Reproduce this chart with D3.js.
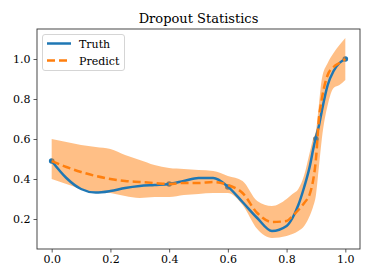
<!DOCTYPE html>
<html>
<head>
<meta charset="utf-8">
<script src="https://cdn.jsdelivr.net/npm/d3@7"></script>
<style>
  body { margin: 0; background: #fff; }
  text { font-family: "DejaVu Serif", serif; fill: #000; }
</style>
</head>
<body>
<div id="chart"></div>
<script>
// values
var xs      = [0, 0.05, 0.1, 0.15, 0.2, 0.25, 0.3, 0.35, 0.4, 0.45, 0.5, 0.55, 0.6, 0.65, 0.7, 0.75, 0.8, 0.82, 0.84, 0.86, 0.88, 0.89, 0.9, 0.91, 0.92, 0.94, 0.96, 0.98, 1.0];
var truth   = [0.49, 0.405, 0.35, 0.332, 0.34, 0.355, 0.365, 0.37, 0.375, 0.39, 0.405, 0.405, 0.362, 0.285, 0.205, 0.14, 0.165, 0.205, 0.27, 0.36, 0.47, 0.545, 0.61, 0.665, 0.74, 0.87, 0.94, 0.98, 1.0];
var predict = [0.49, 0.46, 0.435, 0.415, 0.40, 0.39, 0.385, 0.38, 0.375, 0.38, 0.38, 0.385, 0.37, 0.33, 0.23, 0.185, 0.19, 0.215, 0.245, 0.28, 0.33, 0.39, 0.50, 0.70, 0.80, 0.92, 0.96, 0.98, 1.0];
var upper   = [0.6, 0.585, 0.57, 0.56, 0.55, 0.52, 0.495, 0.47, 0.455, 0.45, 0.445, 0.44, 0.415, 0.39, 0.29, 0.265, 0.30, 0.325, 0.35, 0.42, 0.54, 0.60, 0.64, 0.77, 0.90, 0.98, 1.03, 1.07, 1.105];
var lower   = [0.40, 0.375, 0.35, 0.335, 0.33, 0.315, 0.305, 0.31, 0.31, 0.32, 0.325, 0.33, 0.33, 0.27, 0.15, 0.105, 0.115, 0.125, 0.14, 0.165, 0.22, 0.26, 0.32, 0.46, 0.60, 0.77, 0.855, 0.87, 0.895];
var obsX    = [0, 0.4, 0.6, 0.9, 1.0];
var obsY    = [0.49, 0.375, 0.36, 0.6, 1.0];
var xTicks  = [0, 0.2, 0.4, 0.6, 0.8, 1.0];
var yTicks  = [0.2, 0.4, 0.6, 0.8, 1.0];

var width = 374, height = 280;
var plotL = 37, plotR = 360, plotT = 29, plotB = 249;

var svg = d3.select('#chart')
  .append('svg')
  .attr('width', width)
  .attr('height', height)

var x = d3.scaleLinear().domain([-0.05, 1.05]).range([plotL, plotR])
var y = d3.scaleLinear().domain([0.05, 1.15]).range([plotB, plotT])

var rows = xs.map(function (v, i) {
  return { x: v, t: truth[i], p: predict[i], hi: upper[i], lo: lower[i] };
});

// observed points (sit under the band)
svg.selectAll('circle.obs')
  .data(obsX)
  .join('circle')
  .attr('class', 'obs')
  .attr('cx', d => x(d))
  .attr('cy', (d, i) => y(obsY[i]))
  .attr('r', 2.8)
  .attr('fill', '#1f77b4')

var band = d3.area()
  .x(d => x(d.x))
  .y0(d => y(d.lo))
  .y1(d => y(d.hi))
  .curve(d3.curveMonotoneX)

svg.append('path')
  .datum(rows)
  .attr('d', band)
  .attr('fill', '#ff7f0e')
  .attr('fill-opacity', 0.5)

var truthLine = d3.line().x(d => x(d.x)).y(d => y(d.t)).curve(d3.curveMonotoneX)
var predLine = d3.line().x(d => x(d.x)).y(d => y(d.p)).curve(d3.curveMonotoneX)

svg.append('path')
  .datum(rows)
  .attr('d', truthLine)
  .attr('fill', 'none')
  .attr('stroke', '#1f77b4')
  .attr('stroke-width', 2.5)

svg.append('path')
  .datum(rows)
  .attr('d', predLine)
  .attr('fill', 'none')
  .attr('stroke', '#ff7f0e')
  .attr('stroke-width', 2.5)
  .attr('stroke-dasharray', '8,4')

// axes
var xAxis = svg.append('g')
  .attr('transform', 'translate(0,' + plotB + ')')
  .call(d3.axisBottom(x).tickValues(xTicks).tickFormat(d3.format('.1f')).tickSizeInner(3.5).tickSizeOuter(0).tickPadding(3))
var yAxis = svg.append('g')
  .attr('transform', 'translate(' + plotL + ',0)')
  .call(d3.axisLeft(y).tickValues(yTicks).tickFormat(d3.format('.1f')).tickSizeInner(3.5).tickSizeOuter(0).tickPadding(3))

;[xAxis, yAxis].forEach(function (g) {
  g.select('.domain').remove()
  g.selectAll('text').style('font-family', '"DejaVu Serif", serif').style('font-size', '11px').attr('fill', '#000')
  g.selectAll('line').attr('stroke', '#333').attr('stroke-width', 0.8)
})

svg.append('rect')
  .attr('x', plotL)
  .attr('y', plotT)
  .attr('width', plotR - plotL)
  .attr('height', plotB - plotT)
  .attr('fill', 'none')
  .attr('stroke', '#333')
  .attr('stroke-width', 0.9)

svg.append('text')
  .attr('x', (plotL + plotR) / 2)
  .attr('y', 23)
  .attr('text-anchor', 'middle')
  .style('font-size', '13px')
  .text('Dropout Statistics')

// legend
var legend = svg.append('g')
legend.append('rect')
  .attr('x', 42.5).attr('y', 34.5)
  .attr('width', 82).attr('height', 36)
  .attr('rx', 2.5)
  .attr('fill', '#fff').attr('fill-opacity', 0.8)
  .attr('stroke', '#d0d0d0').attr('stroke-width', 0.9)

var entries = [
  { name: 'Truth', color: '#1f77b4', dash: null },
  { name: 'Predict', color: '#ff7f0e', dash: '8,4' }
];
entries.forEach(function (e, i) {
  var yy = 43.5 + i * 17;
  legend.append('line')
    .attr('x1', 47).attr('x2', 71)
    .attr('y1', yy).attr('y2', yy)
    .attr('stroke', e.color).attr('stroke-width', 2.5)
    .attr('stroke-dasharray', e.dash)
  legend.append('text')
    .attr('x', 79).attr('y', yy + 4)
    .style('font-size', '11px')
    .text(e.name)
})
</script>
</body>
</html>
